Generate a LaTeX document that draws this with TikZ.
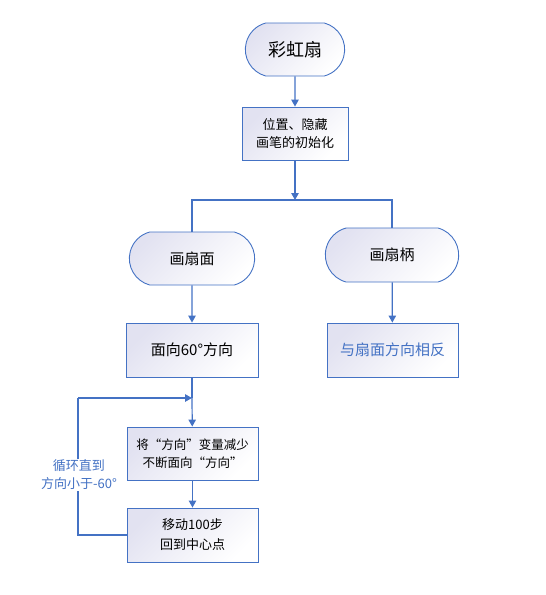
\documentclass[tikz,border=0pt]{standalone}
\usepackage{fontspec}
\setmainfont{Noto Sans CJK SC}
\usetikzlibrary{shapes,arrows.meta,positioning,calc}
\definecolor{lineblue}{HTML}{4472C4}
\definecolor{shadelav}{HTML}{E2E2F1}

\begin{document}
\begin{tikzpicture}[x=1pt,y=-1pt,
  term/.style={rounded rectangle, rounded rectangle arc length=150, draw=lineblue, line width=0.9pt, top color=shadelav, bottom color=white, shading angle=45, minimum height=53pt},
  proc/.style={rectangle, draw=lineblue, line width=0.9pt, top color=shadelav, bottom color=white, shading angle=45, minimum height=53pt, align=center},
  line/.style={draw=lineblue, line width=1.2pt},
  arrow/.style={line, -{Triangle[width=7.5pt,length=7pt]}}]
\useasboundingbox (0,0) rectangle (546,595);
\node[term, minimum width=106pt, font=\fontsize{18}{22}\selectfont] (rainbow) at (295,49.5) {彩虹扇};
\node[proc, minimum width=106pt, font=\fontsize{13}{18}\selectfont] (init) at (295,133.5) {位置、隐藏\\画笔的初始化};
\node[term, minimum width=132pt, font=\fontsize{15}{18}\selectfont] (face) at (192,258.5) {画扇面};
\node[term, minimum width=140pt, minimum height=54pt, font=\fontsize{15}{18}\selectfont] (handle) at (392,255) {画扇柄};
\node[proc, minimum width=132pt, minimum height=54pt, font=\fontsize{15}{18}\selectfont] (dir60) at (192,350) {面向60°方向};
\node[proc, minimum width=131pt, minimum height=54pt, text=lineblue, font=\fontsize{15}{18}\selectfont] (reverse) at (392.5,350) {与扇面方向相反};
\node[proc, minimum width=131pt, font=\fontsize{12.5}{18}\selectfont] (turn) at (192.5,453.5) {将“方向”变量减少\\不断面向“方向”};
\node[proc, minimum width=131pt, minimum height=54pt, font=\fontsize{13}{20}\selectfont] (move) at (192.5,535) {移动100步\\回到中心点};
\coordinate (split) at (295,200);
\coordinate (loopin) at (192,398);
\coordinate (looptop) at (78,398);
% connectors
\draw[arrow] (rainbow) -- (init);
\draw[arrow] (init) -- (split);
\draw[line] (face.north) |- (split) -| (handle.north);
\draw[arrow] (face) -- (dir60);
\draw[arrow] (handle) -- (reverse);
\draw[line] (dir60.south) -- (loopin);
\draw[arrow] (loopin) -- (turn);
\draw[arrow] (turn) -- (move);
\draw[line] (move.west) -| (looptop);
\draw[arrow] (looptop) -- (loopin);
\node[fill=white, text=lineblue, align=center, inner sep=1pt, font=\fontsize{13}{18}\selectfont] (until) at (79,475) {循环直到\\方向小于-60°};
\end{tikzpicture}
\end{document}
